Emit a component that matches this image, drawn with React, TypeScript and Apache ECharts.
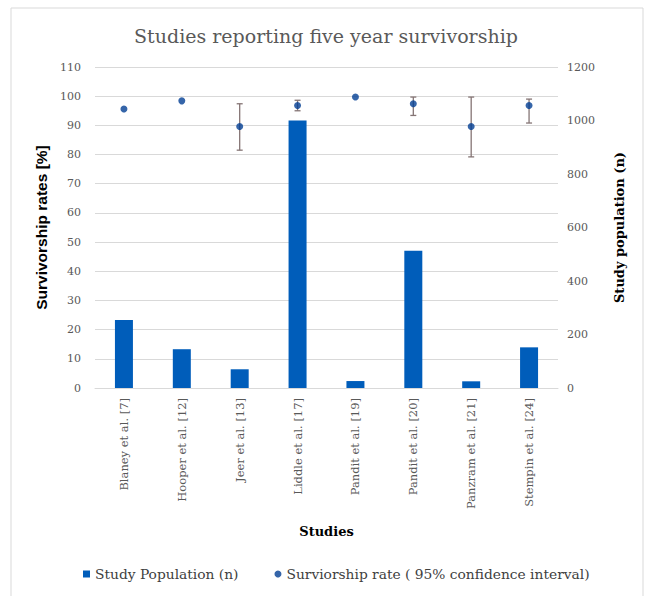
import React, { useEffect, useRef } from "react";
import * as echarts from "echarts";

const studies = [
  "Blaney et al. [7]",
  "Hooper et al. [12]",
  "Jeer et al. [13]",
  "Liddle et al. [17]",
  "Pandit et al. [19]",
  "Pandit et al. [20]",
  "Panzram et al. [21]",
  "Stempin et al. [24]",
];
const population = [254, 145, 70, 1000, 26, 513, 25, 152];
const survival = [95.6, 98.4, 89.6, 96.8, 99.7, 97.4, 89.6, 96.8];
const ciLow: (number | null)[] = [null, null, 81.5, 95.0, null, 93.4, 79.2, 90.8];
const ciHigh: (number | null)[] = [null, null, 97.4, 98.6, null, 99.7, 99.7, 99.0];
const leftTicks = { min: 0, max: 110, interval: 10 };
const rightTicks = { min: 0, max: 1200, interval: 200 };

const barName = "Study Population (n)";
const dotName = "Surviorship rate ( 95% confidence interval)";

export default function App() {
  const ref = useRef<HTMLDivElement>(null);
  useEffect(() => {
    document.body.style.margin = "0";
    if (!ref.current) return;
    const chart = echarts.init(ref.current, null, { renderer: "svg" });
    const serif = "DejaVu Serif";
    const errData = studies
      .map((_, i) => (ciLow[i] == null ? null : [i, ciLow[i], ciHigh[i]]))
      .filter((d) => d !== null);
    chart.setOption({
      animation: false,
      backgroundColor: "#ffffff",
      title: {
        text: "Studies reporting five year survivorship",
        left: "center",
        top: 21,
        textStyle: { fontFamily: serif, fontSize: 19, fontWeight: "normal", color: "#595959" },
      },
      graphic: [
        {
          type: "rect",
          shape: { x: 11, y: 8, width: 632, height: 600 },
          style: { fill: "none", stroke: "#d9d9d9", lineWidth: 1 },
          silent: true,
        },
      ],
      legend: {
        bottom: 10,
        left: 78,
        itemWidth: 7,
        itemHeight: 7,
        itemGap: 36,
        textStyle: { fontFamily: serif, fontSize: 13.8, color: "#404040" },
        data: [
          { name: barName, icon: "rect" },
          { name: dotName, icon: "circle" },
        ],
      },
      grid: { left: 95, right: 94, top: 67, bottom: 208 },
      xAxis: {
        type: "category",
        data: studies,
        name: "Studies",
        nameLocation: "middle",
        nameGap: 137,
        nameTextStyle: { fontFamily: serif, fontSize: 13, fontWeight: "bold", color: "#000000" },
        axisLine: { lineStyle: { color: "#d9d9d9" } },
        axisTick: { show: false },
        axisLabel: { rotate: 90, fontFamily: serif, fontSize: 11.5, color: "#595959", margin: 10 },
      },
      yAxis: [
        {
          type: "value",
          ...leftTicks,
          name: "Survivorship rates [%]",
          nameLocation: "middle",
          nameGap: 45,
          nameTextStyle: { fontFamily: "Liberation Sans", fontSize: 15.5, fontWeight: "bold", color: "#000000" },
          axisLine: { show: false },
          axisTick: { show: false },
          splitLine: { lineStyle: { color: "#d9d9d9" } },
          axisLabel: { fontFamily: serif, fontSize: 11, color: "#595959", margin: 14 },
        },
        {
          type: "value",
          position: "right",
          ...rightTicks,
          name: "Study population (n)",
          nameLocation: "middle",
          nameRotate: 90,
          nameGap: 55,
          nameTextStyle: { fontFamily: serif, fontSize: 13, fontWeight: "bold", color: "#000000" },
          axisLine: { show: false },
          axisTick: { show: false },
          splitLine: { show: false },
          axisLabel: {
            fontFamily: serif,
            fontSize: 11,
            color: "#595959",
            margin: 9,
            formatter: (v: number) => String(v),
          },
        },
      ],
      series: [
        {
          name: barName,
          type: "bar",
          yAxisIndex: 1,
          data: population,
          barWidth: 18,
          itemStyle: { color: "#005DBA" },
          z: 2,
        },
        {
          name: "ci",
          type: "custom",
          yAxisIndex: 0,
          data: errData,
          z: 3,
          renderItem: (params: any, api: any) => {
            const x = api.value(0);
            const lo = api.coord([x, api.value(1)]);
            const hi = api.coord([x, api.value(2)]);
            const hw = 3;
            const style = { stroke: "#857575", lineWidth: 1.3 };
            return {
              type: "group",
              children: [
                { type: "line", shape: { x1: lo[0], y1: lo[1], x2: hi[0], y2: hi[1] }, style },
                { type: "line", shape: { x1: hi[0] - hw, y1: hi[1], x2: hi[0] + hw, y2: hi[1] }, style },
                { type: "line", shape: { x1: lo[0] - hw, y1: lo[1], x2: lo[0] + hw, y2: lo[1] }, style },
              ],
            };
          },
        },
        {
          name: dotName,
          type: "scatter",
          yAxisIndex: 0,
          data: survival,
          symbol: "circle",
          symbolSize: 7,
          itemStyle: { color: "#033E93" },
          z: 4,
        },
      ],
    });
    return () => chart.dispose();
  }, []);
  return <div ref={ref} style={{ width: 652, height: 596 }} />;
}
